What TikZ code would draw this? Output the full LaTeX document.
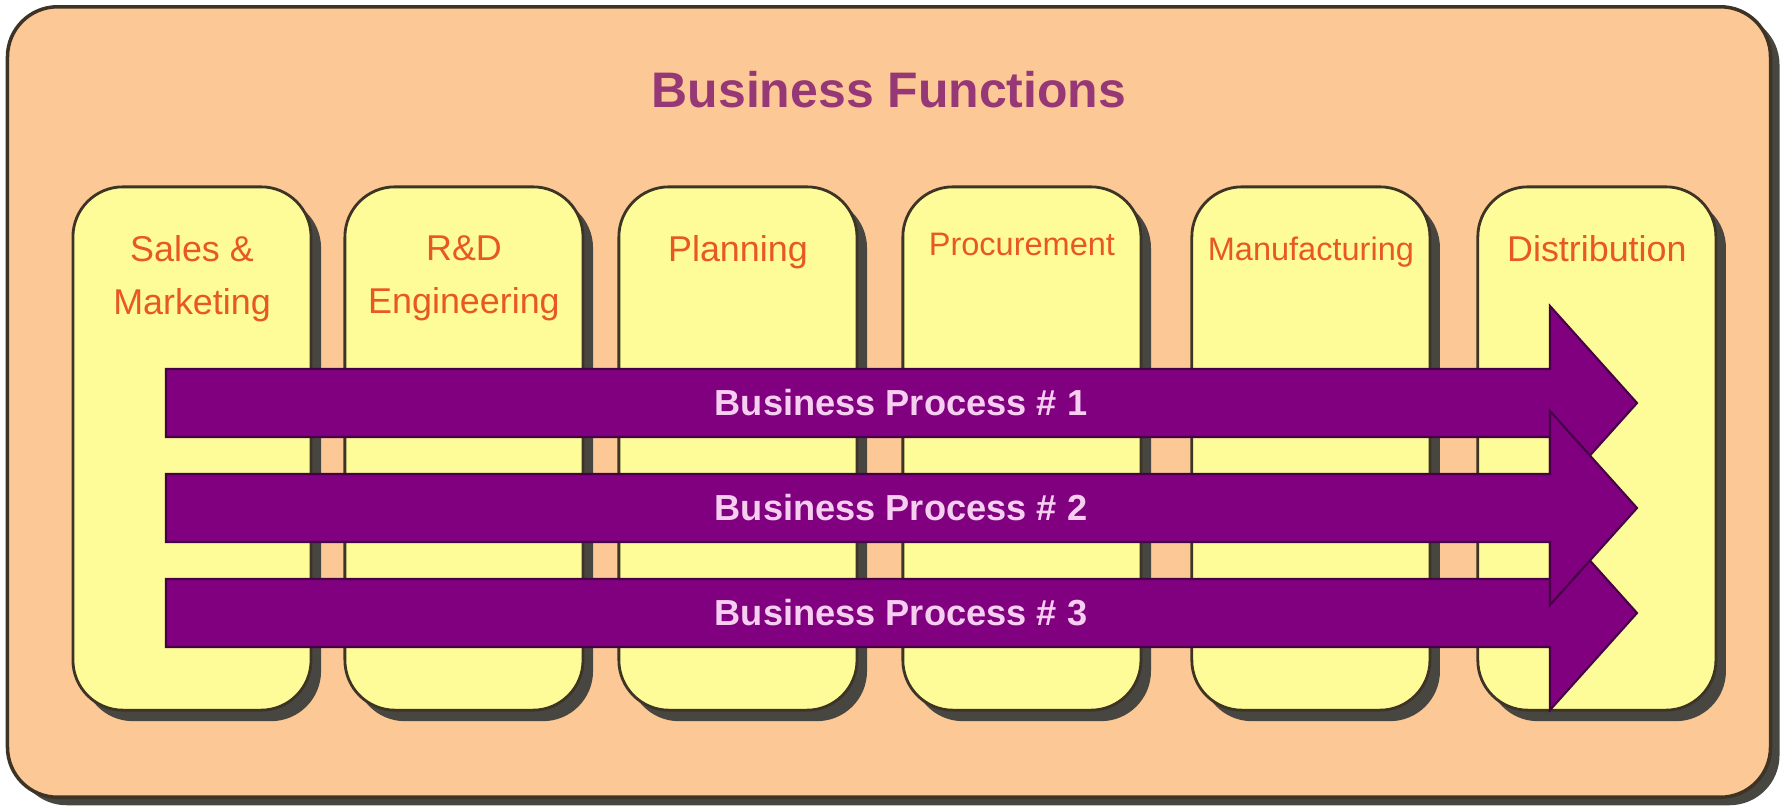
\documentclass[tikz,border=0pt]{standalone}
\usepackage{fontspec}
\setmainfont{Liberation Sans}
\usepackage{tikz}
\usetikzlibrary{positioning,shadows}
\definecolor{peach}{RGB}{252,201,150}
\definecolor{paleyel}{RGB}{253,252,152}
\definecolor{edgecol}{RGB}{62,52,38}
\definecolor{shadecol}{RGB}{72,70,64}
\definecolor{procfill}{RGB}{128,0,128}
\definecolor{procedge}{RGB}{70,0,70}
\definecolor{titlecol}{RGB}{150,55,118}
\definecolor{labcol}{RGB}{232,88,36}
\definecolor{proctext}{RGB}{246,206,240}
\tikzset{panel/.style={draw=edgecol,line width=1pt,fill=peach,rounded corners=0.5cm,inner sep=0pt,drop shadow={shadow xshift=0.09cm,shadow yshift=-0.08cm,fill=shadecol,opacity=1}}}
\tikzset{func/.style={draw=edgecol,line width=0.8pt,fill=paleyel,rounded corners=0.5cm,minimum width=2.38cm,minimum height=5.23cm,inner sep=0pt,drop shadow={shadow xshift=0.1cm,shadow yshift=-0.11cm,fill=shadecol,opacity=1}}}
\tikzset{funclabel/.style={text=labcol,font=\fontsize{10.2}{15.2}\selectfont,align=center,inner sep=0pt}}
\tikzset{smalllabel/.style={funclabel,font=\fontsize{9.25}{12}\selectfont}}
\tikzset{proc/.style={draw=procedge,line width=0.6pt,fill=procfill}}
\tikzset{proclabel/.style={text=proctext,font=\fontsize{10.3}{12}\selectfont\bfseries,inner sep=0pt}}
\begin{document}
\begin{tikzpicture}[x=0.01cm,y=-0.01cm]
        \useasboundingbox (0,0) rectangle (1787,808);
        \node[panel,minimum width=17.62cm,minimum height=7.9cm] (panel) at (889,402) {};
        \node[text=titlecol,font=\fontsize{14.2}{16}\selectfont\bfseries,inner sep=0pt,below=0.66cm of panel.north] (title) {Business Functions};
        % business functions
        \node[func] (sales) at (192,448.5) {};
        \node[func,right=0.31cm of sales] (rnd) {};
        \node[func,right=0.33cm of rnd] (plan) {};
        \node[func,right=0.43cm of plan] (proc) {};
        \node[func,right=0.48cm of proc] (manu) {};
        \node[func,right=0.45cm of manu] (dist) {};
        \node[funclabel,below=0.49cm of sales.north] (l-sales) {Sales \&\\Marketing};
        \node[funclabel,below=0.49cm of rnd.north] (l-rnd) {R\&D\\Engineering};
        \node[funclabel,below=0.49cm of plan.north] (l-plan) {Planning};
        \node[smalllabel,below=0.47cm of proc.north] (l-proc) {Procurement};
        \node[smalllabel,below=0.51cm of manu.north] (l-manu) {Manufacturing};
        \node[funclabel,below=0.49cm of dist.north] (l-dist) {Distribution};
        % business processes
        \draw[proc] (166,369) -- (1550,369) -- (1550,306) -- (1637,403) -- (1550,500) -- (1550,437) -- (166,437) -- cycle;
        \node[proclabel] (bp1) at (901,403) {Business Process \# 1};
        \draw[proc] (166,579) -- (1550,579) -- (1550,516) -- (1637,613) -- (1550,710) -- (1550,647) -- (166,647) -- cycle;
        \node[proclabel] (bp3) at (901,613) {Business Process \# 3};
        \draw[proc] (166,474) -- (1550,474) -- (1550,411) -- (1637,508) -- (1550,605) -- (1550,542) -- (166,542) -- cycle;
        \node[proclabel] (bp2) at (901,508) {Business Process \# 2};
    \end{tikzpicture}
\end{document}
